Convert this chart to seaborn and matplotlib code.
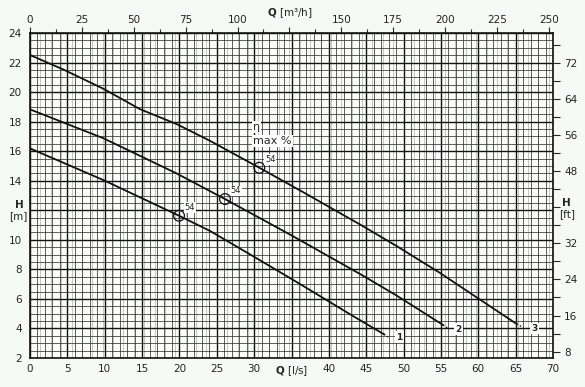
import matplotlib
matplotlib.use("Agg")
import matplotlib.pyplot as plt
import numpy as np
import pandas as pd
import seaborn as sns

# pump curves, Q [l/s] vs H [m]
q1 = [0, 9.8, 19.95, 24.1, 30, 36, 43.3, 47.4]
h1 = [16.19, 14.05, 11.63, 10.6, 8.85, 7.05, 4.82, 3.6]
q2 = [0, 9.8, 19.6, 26.1, 35, 44.2, 49, 55.3]
h2 = [18.83, 16.88, 14.5, 12.76, 10.3, 7.68, 6.25, 4.23]
q3 = [0, 4.5, 9.8, 14.7, 19.6, 24.1, 30.7, 37, 44.2, 49, 54.9, 60, 65.15]
h3 = [22.51, 21.52, 20.23, 18.85, 17.84, 16.7, 14.88, 13.1, 11.03, 9.6, 7.75, 6.03, 4.30]

# dotted tails at the end of each curve
tail_q = [[47.4, 48.0], [55.3, 56.0], [65.15, 66.0]]
tail_h = [[3.6, 3.4], [4.23, 4.0], [4.30, 4.07]]

curve_names = ["1", "2", "3"]
label_q = [49.4, 57.4, 67.5]
label_h = [3.4, 3.95, 4.0]

# max efficiency points
eta_q = [19.95, 26.1, 30.7]
eta_h = [11.63, 12.76, 14.88]
eta_val = ["54", "54", "54"]


def draw():
    sns.set_style("white")
    plt.rcParams["font.family"] = ["DejaVu Sans"]

    bg = "#f6faf6"
    fig = plt.figure(figsize=(5.85, 3.87), dpi=100, facecolor=bg)
    ax = fig.add_axes([30 / 585, 1 - 358 / 387, 523 / 585, 325 / 387])
    ax.set_facecolor("#fbfdfb")

    data = pd.concat([
        pd.DataFrame({"Q": q1, "H": h1, "curve": "1"}),
        pd.DataFrame({"Q": q2, "H": h2, "curve": "2"}),
        pd.DataFrame({"Q": q3, "H": h3, "curve": "3"}),
    ])
    sns.lineplot(data=data, x="Q", y="H", hue="curve", units="curve", estimator=None,
                 palette=["#111111"] * 3, linewidth=1.3, legend=False, ax=ax, zorder=5, sort=False)

    for tq, th in zip(tail_q, tail_h):
        ax.plot(tq, th, color="#111111", linestyle=(0, (1, 1.5)), linewidth=1.0, zorder=5)

    for name, lq, lh in zip(curve_names, label_q, label_h):
        ax.text(lq, lh, name, fontsize=6.5, fontweight="bold", ha="center", va="center", zorder=6,
                bbox=dict(boxstyle="square,pad=0.15", facecolor="white", edgecolor="none"))

    ax.scatter(eta_q, eta_h, s=60, facecolors="none", edgecolors="#111111", linewidths=0.9, zorder=6)
    for q, h, v in zip(eta_q, eta_h, eta_val):
        ax.annotate(v, (q, h), xytext=(4, 4), textcoords="offset points", fontsize=6,
                    color="#222222", zorder=7,
                    bbox=dict(boxstyle="square,pad=0.1", facecolor="white", edgecolor="none"))

    ax.text(29.85, 17.66, "η", fontsize=8, ha="left", va="center", zorder=7,
            bbox=dict(boxstyle="square,pad=0.1", facecolor="white", edgecolor="none"))
    ax.text(29.85, 16.71, "max %", fontsize=8, ha="left", va="center", zorder=7,
            bbox=dict(boxstyle="square,pad=0.1", facecolor="white", edgecolor="none"))

    # axes
    ax.set_xlim(0, 70)
    ax.set_ylim(2, 24)
    ax.set_xticks(np.arange(0, 71, 5))
    ax.set_xticks(np.arange(0, 71, 1), minor=True)
    ax.set_yticks(np.arange(2, 25, 2))
    ax.set_yticks(np.arange(2, 24.1, 0.5), minor=True)
    xlabels = [str(int(v)) for v in np.arange(0, 71, 5)]
    xlabels[7] = ""
    ax.set_xticklabels(xlabels)
    ylabels = [str(int(v)) for v in np.arange(2, 25, 2)]
    ylabels[5] = ""
    ax.set_yticklabels(ylabels)
    ax.grid(which="major", color="#111111", linewidth=1.0, zorder=1)
    ax.grid(which="minor", color="#333333", linewidth=0.55, zorder=1)
    # lighter lines of the m3/h grid
    ax.vlines(np.arange(5, 251, 5) / 3.6, 2, 24, color="#b0b0b0", linewidth=0.5, zorder=0.5)
    ax.set_axisbelow(True)
    ax.tick_params(which="both", length=0, labelsize=7.5, labelcolor="#222222")
    ax.tick_params(axis="x", pad=4)
    ax.tick_params(axis="y", pad=6)
    ax.set_xlabel("")
    ax.set_ylabel("")
    for s in ax.spines.values():
        s.set_color("#111111")
        s.set_linewidth(1.2)

    ax.text(35, 1.55, r"$\mathbf{Q}$ [l/s]", fontsize=7.5, ha="center", va="top", color="#222222")

    # top axis in m3/h
    top = ax.secondary_xaxis("top", functions=(lambda q: q * 3.6, lambda m: m / 3.6))
    top.set_xticks(np.arange(0, 251, 25))
    top.set_xticks(np.arange(0, 251, 12.5), minor=True)
    tlabels = [str(int(v)) for v in np.arange(0, 251, 25)]
    tlabels[5] = ""
    top.set_xticklabels(tlabels)
    top.tick_params(which="major", length=4, width=0.8, labelsize=7.5, labelcolor="#222222", pad=2)
    top.tick_params(which="minor", length=3, width=0.8)
    top.spines["top"].set_visible(False)
    ax.text(125 / 3.6, 24.9, r"$\mathbf{Q}$ [m³/h]", fontsize=7.5, ha="center", va="bottom",
            color="#222222")

    # right axis in ft
    right = ax.secondary_yaxis("right", functions=(lambda m: m * 3.2808, lambda f: f / 3.2808))
    right.set_yticks(np.arange(8, 73, 8))
    right.set_yticks(np.arange(8, 77, 4), minor=True)
    rlabels = [str(int(v)) for v in np.arange(8, 73, 8)]
    rlabels[4] = ""
    right.set_yticklabels(rlabels)
    right.tick_params(which="major", length=5, width=0.8, labelsize=7.5, labelcolor="#222222", pad=3)
    right.tick_params(which="minor", length=5, width=0.8)
    right.spines["right"].set_visible(False)

    fig.text(19 / 585, 1 - 205 / 387, "H", fontsize=7.5, fontweight="bold", ha="center", va="center")
    fig.text(18 / 585, 1 - 216 / 387, "[m]", fontsize=7.5, ha="center", va="center", color="#222222")
    fig.text(566 / 585, 1 - 203 / 387, "H", fontsize=7.5, fontweight="bold", ha="center", va="center")
    fig.text(567 / 585, 1 - 214 / 387, "[ft]", fontsize=7.5, ha="center", va="center", color="#222222")

    fig.savefig("out.png", dpi=100, facecolor=bg)


def main():
    draw()


if __name__ == "__main__":
    main()
